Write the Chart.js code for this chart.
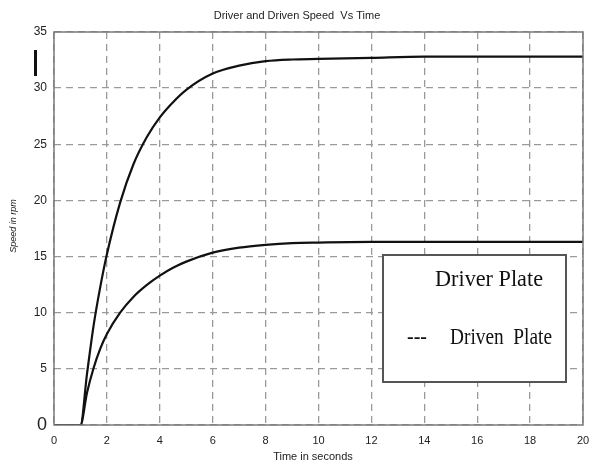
<!DOCTYPE html>
<html>
<head>
<meta charset="utf-8">
<script src="https://cdn.jsdelivr.net/npm/chart.js@4/dist/chart.umd.min.js"></script>
<style>
  html, body { margin: 0; padding: 0; background: #fff; }
  #wrap { width: 593px; height: 466px; position: relative; }
</style>
</head>
<body>
<div id="wrap"><canvas id="c" width="593" height="466"></canvas></div>
<script>
// Time samples (seconds)
const timeS = [0, 1, 1.25, 1.5, 1.75, 2, 2.5, 3, 3.5, 4, 4.5, 5, 6, 7, 8, 9, 10, 12, 14, 16, 18, 20];
// Driver plate speed
const driverSpeed = [0, 0, 4.6, 8.9, 12.3, 15.2, 19.8, 23.2, 25.6, 27.4, 28.75, 29.85, 31.3, 32.0, 32.4, 32.55, 32.6, 32.7, 32.8, 32.8, 32.8, 32.8];
// Driven plate speed
const drivenSpeed = [0, 0, 2.9, 5.1, 6.8, 8.1, 10.0, 11.4, 12.45, 13.3, 14.0, 14.55, 15.35, 15.8, 16.05, 16.2, 16.25, 16.3, 16.3, 16.3, 16.3, 16.3];
const xTicks = [0, 2, 4, 6, 8, 10, 12, 14, 16, 18, 20];
const yTicks = [0, 5, 10, 15, 20, 25, 30, 35];
const titleText = 'Driver and Driven Speed  Vs Time';
const xTitle = 'Time in seconds';
const yTitle = 'Speed in rpm';
const legendLabels = ['Driver Plate', 'Driven  Plate'];
const legendDash = '---';

const toPoints = (ys) => timeS.map((t, i) => ({ x: t, y: ys[i] }));

const overlay = {
  id: 'overlay',
  afterDraw(chart) {
    const { ctx, chartArea: a } = chart;
    ctx.save();
    // frame
    ctx.strokeStyle = '#7a7a7a';
    ctx.lineWidth = 1.5;
    ctx.strokeRect(a.left, a.top, a.right - a.left, a.bottom - a.top);
    // title
    ctx.fillStyle = '#222';
    ctx.font = '11px "Liberation Sans", Arial, sans-serif';
    ctx.textAlign = 'center';
    ctx.textBaseline = 'middle';
    ctx.fillText(titleText, 297, 16);
    // x title
    ctx.fillText(xTitle, 313, 457);
    // y title
    ctx.save();
    ctx.translate(13, 226);
    ctx.rotate(-Math.PI / 2);
    ctx.font = 'italic 9px "Liberation Sans", Arial, sans-serif';
    ctx.fillText(yTitle, 0, 0);
    ctx.restore();
    // short bar beside the top of the y axis
    ctx.fillStyle = '#111';
    ctx.fillRect(a.left - 20, a.top + 18, 3, 26);
    // legend box
    const bx = 383, by = 255, bw = 183, bh = 127;
    ctx.fillStyle = '#fff';
    ctx.fillRect(bx, by, bw, bh);
    ctx.strokeStyle = '#555';
    ctx.lineWidth = 2;
    ctx.strokeRect(bx, by, bw, bh);
    ctx.fillStyle = '#111';
    ctx.font = '23px "Liberation Serif", "Times New Roman", serif';
    ctx.textAlign = 'left';
    ctx.textBaseline = 'alphabetic';
    ctx.fillText(legendLabels[0], 435, 286, 108);
    ctx.fillText(legendDash, 407, 344, 20);
    ctx.fillText(legendLabels[1], 450, 344, 102);
    ctx.restore();
  }
};

new Chart(document.getElementById('c'), {
  type: 'scatter',
  data: {
    datasets: [
      { label: legendLabels[0], data: toPoints(driverSpeed), showLine: true, borderColor: '#111', borderWidth: 2.2, pointRadius: 0, cubicInterpolationMode: 'monotone' },
      { label: legendLabels[1], data: toPoints(drivenSpeed), showLine: true, borderColor: '#111', borderWidth: 2.2, pointRadius: 0, cubicInterpolationMode: 'monotone' }
    ]
  },
  options: {
    responsive: false,
    animation: false,
    layout: { padding: { top: 32, right: 10, left: 0, bottom: 0 } },
    plugins: { legend: { display: false }, title: { display: false }, tooltip: { enabled: false } },
    scales: {
      x: {
        type: 'linear', min: 0, max: 20,
        afterBuildTicks: (s) => { s.ticks = xTicks.map(v => ({ value: v })); },
        afterFit: (s) => { s.height = 41; s.paddingRight = 0; s.paddingLeft = 0; },
        grid: { color: '#9a9a9a', lineWidth: 1.3, drawTicks: false },
        border: { display: false, dash: [7, 5] },
        ticks: { padding: 9, color: '#222', font: { size: 11, family: '"Liberation Sans", Arial, sans-serif' } }
      },
      y: {
        type: 'linear', min: 0, max: 35,
        afterBuildTicks: (s) => { s.ticks = yTicks.map(v => ({ value: v })); },
        afterFit: (s) => { s.width = 54; s.paddingTop = 0; s.paddingBottom = 0; },
        grid: { color: '#9a9a9a', lineWidth: 1.3, drawTicks: false },
        border: { display: false, dash: [7, 5] },
        ticks: {
          padding: 7, color: '#222',
          font: (c) => ({ size: c.tick && c.tick.value === 0 ? 18 : 12, family: '"Liberation Sans", Arial, sans-serif' })
        }
      }
    }
  },
  plugins: [overlay]
});
</script>
</body>
</html>
